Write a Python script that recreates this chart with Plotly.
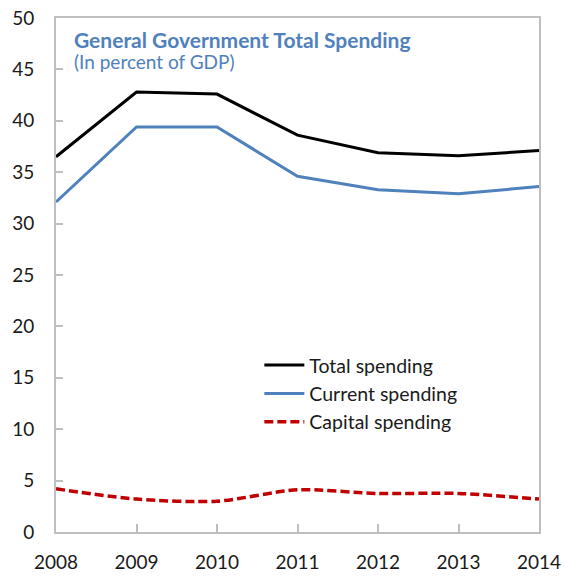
import plotly.graph_objects as go

years = [2008, 2009, 2010, 2011, 2012, 2013, 2014]
total_spending = [36.5, 42.8, 42.6, 38.6, 36.9, 36.6, 37.1]
current_spending = [32.1, 39.4, 39.4, 34.6, 33.3, 32.9, 33.6]
capital_spending = [4.2, 3.2, 3.0, 4.1, 3.75, 3.75, 3.2]
y_ticks = [0, 5, 10, 15, 20, 25, 30, 35, 40, 45, 50]

FONT = "Lato"
TEXT = "#1a1a1a"
BLUE_TITLE = "#4F81BD"

fig = go.Figure()
fig.add_trace(go.Scatter(x=years, y=total_spending, mode="lines", name="Total spending",
                         line=dict(color="#000000", width=3)))
fig.add_trace(go.Scatter(x=years, y=current_spending, mode="lines", name="Current spending",
                         line=dict(color="#4F81BD", width=3)))
fig.add_trace(go.Scatter(x=years, y=capital_spending, mode="lines", name="Capital spending",
                         line=dict(color="#C00000", width=3.5, dash="9px,4px", shape="spline", smoothing=0.8)))

fig.update_layout(
    width=565, height=576,
    margin=dict(l=56, r=26, t=18, b=44, autoexpand=False),
    paper_bgcolor="white", plot_bgcolor="white",
    font=dict(family=FONT, size=19, color=TEXT),
    showlegend=True,
    legend=dict(x=0.421, y=0.362, xanchor="left", yanchor="top",
                bgcolor="rgba(0,0,0,0)", font=dict(size=19.5, color=TEXT),
                tracegroupgap=0, itemwidth=40),
    xaxis=dict(range=[2008, 2014], tickvals=years, ticktext=[str(y) for y in years],
               showgrid=False, zeroline=False, showline=True, linecolor="#BFBFBF", linewidth=2,
               mirror=True, ticks="inside", ticklen=8, tickcolor="#BFBFBF", tickwidth=1.5,
               tickfont=dict(size=19, color=TEXT), ticklabelstandoff=12, automargin=False,
               ticklabeloverflow="allow"),
    yaxis=dict(range=[0, 50], tickvals=y_ticks, showgrid=False, zeroline=False,
               showline=True, linecolor="#BFBFBF", linewidth=2, mirror=True,
               ticks="inside", ticklen=7, tickcolor="#BFBFBF", tickwidth=1.5,
               tickfont=dict(size=19, color=TEXT), ticklabelstandoff=16, automargin=False,
               ticklabeloverflow="allow"),
    annotations=[
        dict(text="<b>General Government Total Spending</b>", xref="paper", yref="paper",
             x=0.034, y=0.959, xanchor="left", yanchor="middle", showarrow=False,
             font=dict(size=21, color=BLUE_TITLE, family=FONT)),
        dict(text="(In percent of GDP)", xref="paper", yref="paper",
             x=0.034, y=0.915, xanchor="left", yanchor="middle", showarrow=False,
             font=dict(size=19, color=BLUE_TITLE, family=FONT)),
    ],
)

fig.write_html(
    "out.html",
    config={"displayModeBar": False},
    post_script="document.body.style.margin='0';document.body.style.overflow='hidden';",
)
